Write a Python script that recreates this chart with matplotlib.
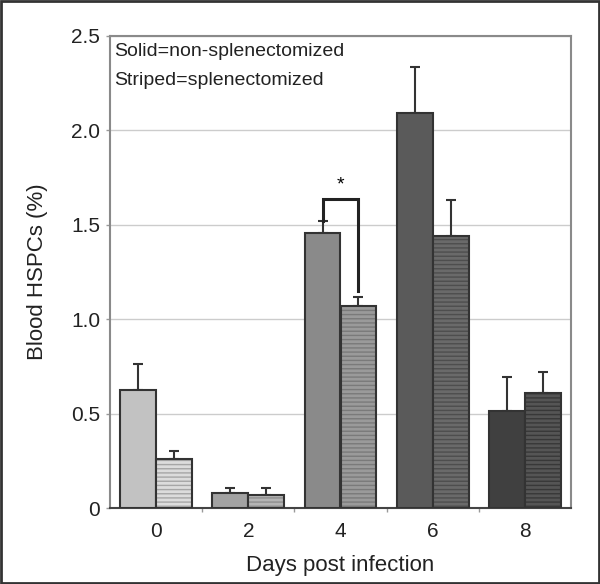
import numpy as np
import matplotlib
matplotlib.use("Agg")
import matplotlib.pyplot as plt
from matplotlib.patches import Rectangle

plt.rcParams['font.family'] = ['Liberation Sans', 'DejaVu Sans']

days = ['0', '2', '4', '6', '8']
solid = [0.627, 0.079, 1.457, 2.092, 0.515]
solid_err = [0.134, 0.029, 0.065, 0.246, 0.179]
striped = [0.262, 0.069, 1.069, 1.439, 0.611]
striped_err = [0.042, 0.039, 0.047, 0.190, 0.107]

solid_colors = ['#c2c2c2', '#a2a2a2', '#8a8a8a', '#5a5a5a', '#404040']
stripe_base = ['#dcdcdc', '#b4b4b4', '#9a9a9a', '#6a6a6a', '#555555']
stripe_line = ['#a6a6a6', '#8e8e8e', '#7a7a7a', '#4e4e4e', '#383838']

fig = plt.figure(figsize=(6.0, 5.84), dpi=100)
ax = fig.add_axes([0.1833, 0.1301, 0.7684, 0.8083])

x = np.arange(len(days))
w = 0.39
edge = '#333333'

ax.bar(x - w / 2, solid, w, color=solid_colors, edgecolor=edge, linewidth=1.5, zorder=3)
ax.errorbar(x - w / 2, solid, yerr=[np.zeros(5), solid_err], fmt='none', ecolor=edge,
            elinewidth=1.5, capsize=3.5, capthick=1.5, zorder=2)

ax.bar(x + w / 2, striped, w, color=stripe_base, edgecolor=stripe_line, hatch='----',
       linewidth=0, zorder=3)
ax.bar(x + w / 2, striped, w, fill=False, edgecolor=edge, linewidth=1.5, zorder=4)
ax.errorbar(x + w / 2, striped, yerr=[np.zeros(5), striped_err], fmt='none', ecolor=edge,
            elinewidth=1.5, capsize=3.5, capthick=1.5, zorder=2)

# significance bracket on day 4
xl, xr = 2 - w / 2, 2 + w / 2
ax.plot([xl, xl, xr, xr], [solid[2] + solid_err[2], 1.636, 1.636, 1.151],
        color='#222222', linewidth=2.2, zorder=5, solid_joinstyle='miter')
ax.text(2, 1.665, '*', ha='center', va='bottom', fontsize=14)

ax.set_xlim(-0.5, 4.5)
ax.set_ylim(0, 2.5)
ax.set_yticks([0, 0.5, 1.0, 1.5, 2.0, 2.5])
ax.set_yticklabels(['0', '0.5', '1.0', '1.5', '2.0', '2.5'], fontsize=15, color='#222222')
ax.set_xticks(x)
ax.set_xticklabels(days, fontsize=15, color='#222222')
ax.set_xticks(x[:-1] + 0.5, minor=True)
ax.tick_params(axis='x', which='major', length=0, pad=10)
ax.tick_params(axis='x', which='minor', length=3, color='#999999', width=1)
ax.tick_params(axis='y', length=3, color='#999999', width=1, pad=4)

ax.yaxis.grid(True, color='#cccccc', linewidth=1)
ax.set_axisbelow(True)
for s in ['left', 'top', 'right']:
    ax.spines[s].set_color('#8a8a8a')
    ax.spines[s].set_linewidth(1.5)
ax.spines['bottom'].set_color('#444444')
ax.spines['bottom'].set_linewidth(1.5)

ax.set_xlabel('Days post infection', fontsize=16, color='#222222', labelpad=10)
ax.set_ylabel('Blood HSPCs (%)', fontsize=16, color='#222222', labelpad=17)

ax.text(0.008, 0.968, 'Solid=non-splenectomized', transform=ax.transAxes, fontsize=14,
        va='center', ha='left', color='#222222')
ax.text(0.008, 0.905, 'Striped=splenectomized', transform=ax.transAxes, fontsize=14,
        va='center', ha='left', color='#222222')

fig.patches.append(Rectangle((0.002, 0.002), 0.996, 0.996, transform=fig.transFigure,
                             fill=False, edgecolor='#333333', linewidth=2.0))

fig.savefig('out.png', dpi=100)
